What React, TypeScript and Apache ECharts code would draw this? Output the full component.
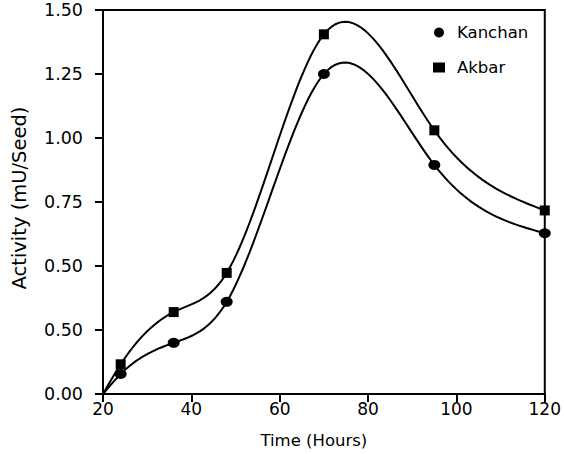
import React, { useEffect, useRef } from "react";
import * as echarts from "echarts";

const hours = [20, 24, 36, 48, 70, 95, 120];
const kanchan = [0, 0.078, 0.2, 0.36, 1.25, 0.895, 0.628];
const akbar = [0, 0.116, 0.32, 0.473, 1.405, 1.03, 0.717];
const yTickLabels = ["0.00", "0.50", "0.50", "0.75", "1.00", "1.25", "1.50"];
const xTickLabels = ["20", "40", "60", "80", "100", "120"];

const FONT = "DejaVu Sans";

// natural cubic spline second derivatives (rendering of the smooth curve)
function splineM(xs: number[], ys: number[]) {
  const n = xs.length;
  const h: number[] = [];
  for (let i = 0; i < n - 1; i++) h.push(xs[i + 1] - xs[i]);
  const a: number[] = new Array(n).fill(0);
  const b: number[] = new Array(n).fill(1);
  const c: number[] = new Array(n).fill(0);
  const r: number[] = new Array(n).fill(0);
  for (let i = 1; i < n - 1; i++) {
    a[i] = h[i - 1];
    b[i] = 2 * (h[i - 1] + h[i]);
    c[i] = h[i];
    r[i] = 6 * ((ys[i + 1] - ys[i]) / h[i] - (ys[i] - ys[i - 1]) / h[i - 1]);
  }
  const cp = new Array(n).fill(0);
  const rp = new Array(n).fill(0);
  cp[0] = c[0] / b[0];
  rp[0] = r[0] / b[0];
  for (let i = 1; i < n; i++) {
    const m = b[i] - a[i] * cp[i - 1];
    cp[i] = c[i] / m;
    rp[i] = (r[i] - a[i] * rp[i - 1]) / m;
  }
  const M = new Array(n).fill(0);
  M[n - 1] = rp[n - 1];
  for (let i = n - 2; i >= 0; i--) M[i] = rp[i] - cp[i] * M[i + 1];
  return M;
}

function evalSeg(xs: number[], ys: number[], M: number[], i: number, x: number) {
  const h = xs[i + 1] - xs[i];
  const A = xs[i + 1] - x;
  const B = x - xs[i];
  return (
    (M[i] * A * A * A) / (6 * h) +
    (M[i + 1] * B * B * B) / (6 * h) +
    (ys[i] / h - (M[i] * h) / 6) * A +
    (ys[i + 1] / h - (M[i + 1] * h) / 6) * B
  );
}

function curveSeries(name: string, vals: number[]) {
  const M = splineM(hours, vals);
  return {
    name,
    type: "custom",
    silent: true,
    z: 2,
    itemStyle: { color: "#000" },
    data: hours.map((h, i) => [h, vals[i]]),
    encode: { x: 0, y: 1 },
    renderItem: (params: any, api: any) => {
      const i = params.dataIndex;
      if (i >= hours.length - 1) return { type: "group", children: [] };
      const pts: number[][] = [];
      const steps = 30;
      for (let k = 0; k <= steps; k++) {
        const x = hours[i] + ((hours[i + 1] - hours[i]) * k) / steps;
        pts.push(api.coord([x, evalSeg(hours, vals, M, i, x)]));
      }
      return {
        type: "polyline",
        shape: { points: pts },
        style: { stroke: "#000", lineWidth: 2, fill: "none" },
      };
    },
  };
}

function markerSeries(name: string, vals: number[], symbol: string, size: any) {
  return {
    name,
    type: "scatter",
    symbol,
    symbolSize: size,
    z: 3,
    itemStyle: { color: "#000", opacity: 1 },
    data: hours.map((h, i) => [h, vals[i]]).filter((_, i) => i > 0),
  };
}

export default function App() {
  const ref = useRef<HTMLDivElement>(null);
  useEffect(() => {
    const chart = echarts.init(ref.current!, null, { renderer: "svg" });
    chart.setOption({
      animation: false,
      backgroundColor: "#fff",
      color: ["#000", "#000", "#000", "#000"],
      textStyle: { fontFamily: FONT },
      grid: {
        left: 103,
        right: 17,
        top: 10,
        bottom: 57,
        show: true,
        borderColor: "#000",
        borderWidth: 2,
      },
      legend: {
        orient: "vertical",
        left: 428,
        top: 19,
        itemGap: 18,
        itemWidth: 12,
        itemHeight: 10,
        itemStyle: { color: "#000" },
        textStyle: { fontFamily: FONT, fontSize: 16.5, color: "#000", padding: [0, 0, 0, 7] },
        data: [
          { name: "Kanchan", icon: "circle" },
          { name: "Akbar", icon: "rect" },
        ],
      },
      xAxis: {
        type: "value",
        min: 20,
        max: 120,
        interval: 20,
        name: "Time (Hours)",
        nameLocation: "middle",
        nameGap: 38,
        nameTextStyle: { fontFamily: FONT, fontSize: 16.5, color: "#000", padding: [0, 20, 0, 0] },
        axisLine: { lineStyle: { color: "#000", width: 2 } },
        axisTick: { length: 8, lineStyle: { color: "#000", width: 2 } },
        axisLabel: {
          fontFamily: FONT,
          fontSize: 17,
          color: "#000",
          margin: 6,
          formatter: (v: number) => xTickLabels[Math.round((v - 20) / 20)] ?? "",
        },
        splitLine: { show: false },
      },
      yAxis: {
        type: "value",
        min: 0,
        max: 1.5,
        interval: 0.25,
        name: "Activity (mU/Seed)",
        nameLocation: "middle",
        nameGap: 74,
        nameRotate: 90,
        nameTextStyle: { fontFamily: FONT, fontSize: 19.5, color: "#000", padding: [0, 0, 0, 8] },
        axisLine: { lineStyle: { color: "#000", width: 2 } },
        axisTick: { length: 8, lineStyle: { color: "#000", width: 2 } },
        axisLabel: {
          fontFamily: FONT,
          fontSize: 17.5,
          color: "#000",
          margin: 20,
          formatter: (v: number) => yTickLabels[Math.round(v / 0.25)] ?? "",
        },
        splitLine: { show: false },
      },
      series: [
        curveSeries("Kanchan", kanchan),
        curveSeries("Akbar", akbar),
        markerSeries("Kanchan", kanchan, "circle", [12, 10]),
        markerSeries("Akbar", akbar, "rect", 10),
      ],
    });
    return () => chart.dispose();
  }, []);
  return <div ref={ref} style={{ width: 564, height: 454, position: "absolute", left: 0, top: 0 }} />;
}
